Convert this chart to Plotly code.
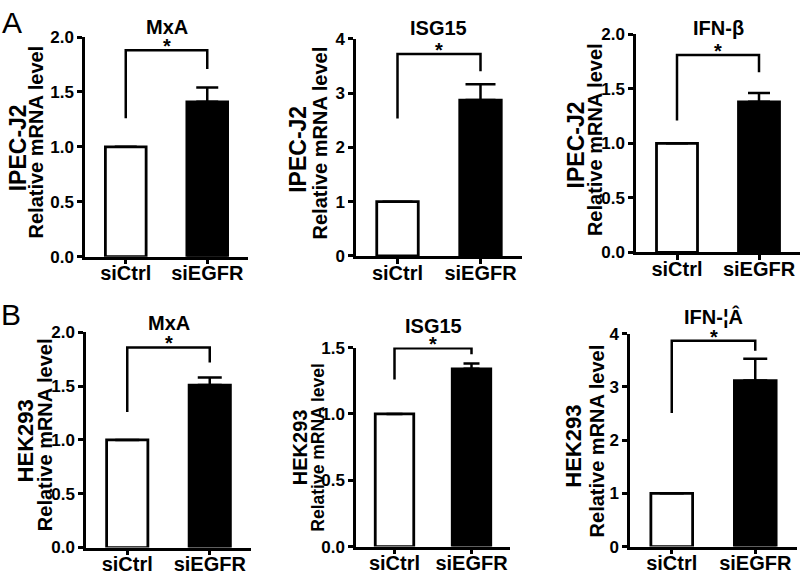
import plotly.graph_objects as go

W, H = 800, 582

categories = ["siCtrl", "siEGFR"]

panel_titles = ["MxA", "ISG15", "IFN-β", "MxA", "ISG15", "IFN-¦Â"]
cell_lines = ["IPEC-J2", "IPEC-J2", "IPEC-J2", "HEK293", "HEK293", "HEK293"]
y_label = "Relative mRNA level"

ctrl_values = [1.0, 1.0, 1.0, 1.0, 1.0, 1.0]
egfr_values = [1.41, 2.87, 1.38, 1.51, 1.34, 3.12]
egfr_errors = [0.13, 0.29, 0.08, 0.07, 0.04, 0.41]

bracket_top = [1.88, 3.72, 1.81, 1.86, 1.495, 3.87]
bracket_left = [1.26, 2.53, 1.21, 1.26, 1.26, 2.51]
bracket_right = [1.71, 3.40, 1.65, 1.72, 1.45, 3.68]

y_max = [2.0, 4, 2.0, 2.0, 1.5, 4]
y_ticks = [
    [0.0, 0.5, 1.0, 1.5, 2.0],
    [0, 1, 2, 3, 4],
    [0.0, 0.5, 1.0, 1.5, 2.0],
    [0.0, 0.5, 1.0, 1.5, 2.0],
    [0.0, 0.5, 1.0, 1.5],
    [0, 1, 2, 3, 4],
]
y_tick_text = [
    ["0.0", "0.5", "1.0", "1.5", "2.0"],
    ["0", "1", "2", "3", "4"],
    ["0.0", "0.5", "1.0", "1.5", "2.0"],
    ["0.0", "0.5", "1.0", "1.5", "2.0"],
    ["0.0", "0.5", "1.0", "1.5"],
    ["0", "1", "2", "3", "4"],
]
panel_letters = ["A", "B"]

# ---- layout (pixel geometry) ----
plot_boxes = [  # x0, x1, ytop, ybottom in pixels
    (85, 248, 29, 256),
    (356, 522, 30.7, 255.3),
    (636, 800, 26, 251.7),
    (86, 251, 334.3, 556.7),
    (356, 510, 350, 555.7),
    (630, 797, 335.7, 555.7),
]
title_y = [19, 20, 20, 325, 328, 318]
cell_label_pos = [(18, 144), (298.5, 145), (576, 141), (25, 447), (300, 453), (573.5, 452)]
rel_label_pos = [(36, 138), (320, 139), (594.5, 135), (44.5, 440), (318.5, 453), (597, 447)]
cell_font = [23, 23, 23, 22, 20, 22]
rel_font = [20, 20, 20, 20, 17.5, 20]
cap_width = [11, 15, 11, 12, 8, 12]
letter_pos = [(12, 14), (11, 316)]

FONT = "Liberation Sans, Arial, sans-serif"
LW = 2.5


def px(x):
    return x / W


def py(y):
    return 1 - y / H


fig = go.Figure()
annotations = []
layout_axes = {}

for i in range(6):
    n = i + 1
    xa = "x" if n == 1 else f"x{n}"
    ya = "y" if n == 1 else f"y{n}"
    x0, x1, yt, yb = plot_boxes[i]

    fig.add_trace(go.Bar(
        x=categories, y=[ctrl_values[i], egfr_values[i]],
        width=0.5,
        marker=dict(color=["white", "black"], line=dict(color="black", width=2.8)),
        error_y=dict(type="data", symmetric=False,
                     array=[0, egfr_errors[i]], arrayminus=[0, 0],
                     color="black", thickness=LW, width=cap_width[i]),
        xaxis=xa, yaxis=ya, showlegend=False, hoverinfo="skip",
    ))
    fig.add_trace(go.Scatter(
        x=[categories[0], categories[0], categories[1], categories[1]],
        y=[bracket_left[i], bracket_top[i], bracket_top[i], bracket_right[i]],
        mode="lines", line=dict(color="black", width=LW),
        xaxis=xa, yaxis=ya, showlegend=False, hoverinfo="skip",
    ))

    layout_axes["xaxis" if n == 1 else f"xaxis{n}"] = dict(
        domain=[px(x0), px(x1)], anchor=ya, type="category",
        categoryorder="array", categoryarray=categories,
        range=[-0.5, 1.5], showline=True, linewidth=LW, linecolor="black",
        ticks="outside", ticklen=5, tickwidth=LW, tickcolor="black",
        ticklabelstandoff=-8,
        showgrid=False, zeroline=False,
        tickfont=dict(family=FONT, size=20, color="black", weight="bold"),
        fixedrange=True,
    )
    layout_axes["yaxis" if n == 1 else f"yaxis{n}"] = dict(
        domain=[py(yb), py(yt)], anchor=xa,
        range=[0, y_max[i]], showline=True, linewidth=LW, linecolor="black",
        ticks="outside", ticklen=5, tickwidth=LW, tickcolor="black",
        tickvals=y_ticks[i], ticktext=y_tick_text[i],
        showgrid=False, zeroline=False,
        tickfont=dict(family=FONT, size=17, color="black", weight="bold"),
        fixedrange=True,
    )

    # asterisk
    annotations.append(dict(
        x=0.5, y=bracket_top[i], xref=xa, yref=ya, text="*",
        showarrow=False, yanchor="middle", yshift=4,
        font=dict(family=FONT, size=20, color="black", weight="bold"),
    ))
    # title
    annotations.append(dict(
        x=px((x0 + x1) / 2), y=py(title_y[i]), xref="paper", yref="paper",
        text=f"<b>{panel_titles[i]}</b>", showarrow=False,
        xanchor="center", yanchor="middle",
        font=dict(family=FONT, size=20, color="black"),
    ))
    # y labels
    cx, cy = cell_label_pos[i]
    annotations.append(dict(
        x=px(cx), y=py(cy), xref="paper", yref="paper",
        text=f"<b>{cell_lines[i]}</b>", showarrow=False, textangle=-90,
        xanchor="center", yanchor="middle",
        font=dict(family=FONT, size=cell_font[i], color="black"),
    ))
    rx, ry = rel_label_pos[i]
    annotations.append(dict(
        x=px(rx), y=py(ry), xref="paper", yref="paper",
        text=f"<b>{y_label}</b>", showarrow=False, textangle=-90,
        xanchor="center", yanchor="middle",
        font=dict(family=FONT, size=rel_font[i], color="black"),
    ))

for k, letter in enumerate(panel_letters):
    lx, ly = letter_pos[k]
    annotations.append(dict(
        x=px(lx), y=py(ly), xref="paper", yref="paper", text=letter,
        showarrow=False, xanchor="center", yanchor="middle",
        font=dict(family=FONT, size=30, color="black"),
    ))

fig.update_layout(
    width=W, height=H,
    margin=dict(l=0, r=0, t=0, b=0),
    paper_bgcolor="white", plot_bgcolor="white",
    annotations=annotations,
    bargap=0.5,
    **layout_axes,
)

fig.write_html(
    "out.html",
    config={"displayModeBar": False},
    post_script="document.body.style.margin='0';document.body.style.overflow='hidden';",
)
